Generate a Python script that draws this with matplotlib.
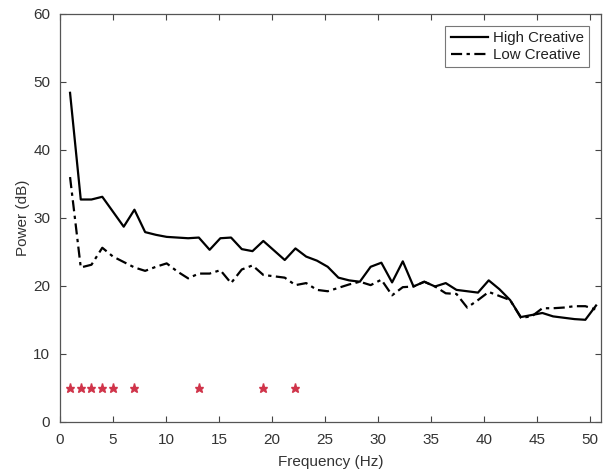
import matplotlib
matplotlib.use("Agg")
import matplotlib.pyplot as plt

freq = [0.95, 1.96, 2.97, 3.99, 5.0, 6.01, 7.02, 8.03, 9.05, 10.06,
        11.07, 12.08, 13.09, 14.11, 15.12, 16.13, 17.14, 18.15, 19.17, 20.18,
        21.19, 22.2, 23.21, 24.23, 25.24, 26.25, 27.26, 28.27, 29.29, 30.3,
        31.31, 32.32, 33.33, 34.35, 35.36, 36.37, 37.38, 38.39, 39.41, 40.42,
        41.43, 42.44, 43.45, 44.47, 45.48, 46.49, 47.5, 48.51, 49.53, 50.54]

high_creative = [48.4, 32.7, 32.7, 33.1, 30.9, 28.7, 31.2, 27.9, 27.5, 27.2,
                 27.1, 27.0, 27.1, 25.3, 27.0, 27.1, 25.4, 25.1, 26.6, 25.2,
                 23.8, 25.5, 24.3, 23.7, 22.8, 21.2, 20.8, 20.6, 22.8, 23.4,
                 20.5, 23.6, 19.9, 20.6, 19.9, 20.4, 19.4, 19.2, 19.0, 20.8,
                 19.5, 17.9, 15.4, 15.7, 16.0, 15.5, 15.3, 15.1, 15.0, 17.1]

low_creative = [36.0, 22.7, 23.1, 25.6, 24.3, 23.5, 22.7, 22.2, 22.8, 23.3,
                22.1, 21.1, 21.8, 21.8, 22.3, 20.4, 22.4, 23.0, 21.6, 21.4,
                21.2, 20.1, 20.4, 19.4, 19.2, 19.7, 20.2, 20.6, 20.1, 20.9,
                18.6, 19.8, 19.9, 20.6, 19.9, 18.9, 18.8, 16.8, 17.9, 19.1,
                18.5, 17.9, 15.3, 15.5, 16.7, 16.7, 16.8, 17.0, 17.0, 16.5]

sig_freq = [0.95, 1.96, 2.97, 3.99, 5.0, 7.02, 13.09, 19.17, 22.2]
sig_level = [5, 5, 5, 5, 5, 5, 5, 5, 5]

xticks = [0, 5, 10, 15, 20, 25, 30, 35, 40, 45, 50]
yticks = [0, 10, 20, 30, 40, 50, 60]

plt.rcParams['font.family'] = ['Liberation Sans', 'DejaVu Sans']

fig = plt.figure(figsize=(6.07, 4.74), dpi=100)
ax = fig.add_axes([0.0988, 0.1103, 0.8912, 0.8602])

ax.plot(freq, high_creative, color='black', lw=1.6, label='High Creative')
ax.plot(freq, low_creative, color='black', lw=1.6, dashes=(5, 2, 1.5, 2),
        label='Low Creative')
ax.plot(sig_freq, sig_level, linestyle='none', marker='*', color='#d0344a',
        markersize=6.5)

ax.set_xlim(0, 51)
ax.set_ylim(0, 60)
ax.set_xticks(xticks)
ax.set_yticks(yticks)
ax.tick_params(direction='in', length=4, width=0.8, top=True, right=True,
               labelsize=11, colors='#444444', labelcolor='#333333', pad=7)
ax.tick_params(axis='x', pad=8)
for s in ax.spines.values():
    s.set_color('#555555')
    s.set_linewidth(0.9)

ax.set_xlabel('Frequency (Hz)', fontsize=11, color='#333333', labelpad=6)
ax.set_ylabel('Power (dB)', fontsize=11, color='#333333', labelpad=2)

leg = ax.legend(loc='upper right', fontsize=10.8, frameon=True, fancybox=False,
                edgecolor='#555555', handlelength=2.5, handletextpad=0.3,
                borderpad=0.35, labelspacing=0.2, borderaxespad=0.8)
leg.get_frame().set_linewidth(0.8)
for t in leg.get_texts():
    t.set_color('#222222')

fig.savefig('out.png', dpi=100)
